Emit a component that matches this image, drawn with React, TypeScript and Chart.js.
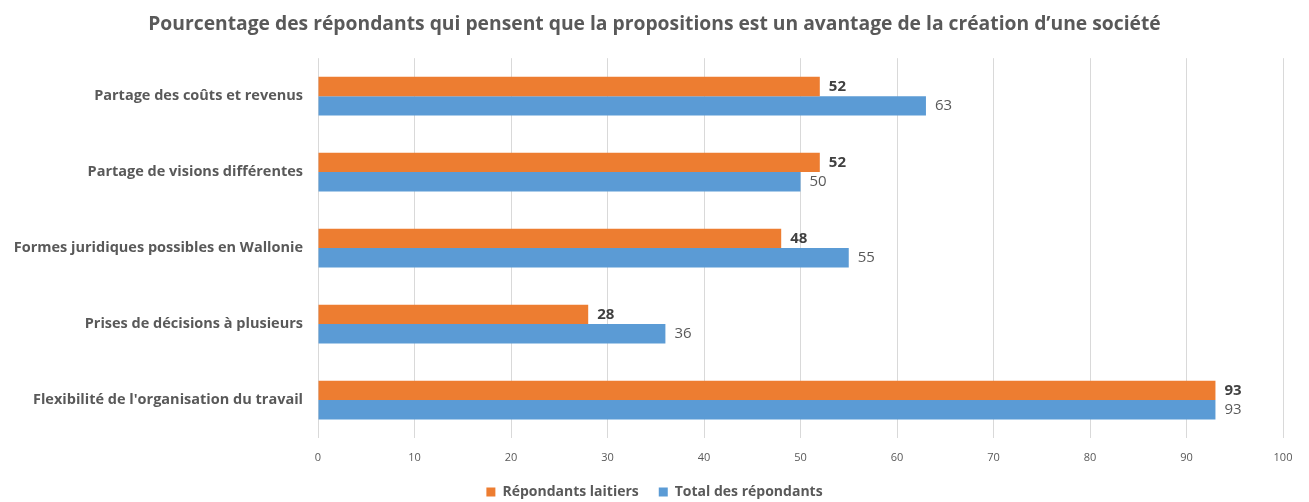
import React, { useEffect, useRef } from "react";
import { Chart, registerables } from "chart.js";

Chart.register(...registerables);

const titleText =
  "Pourcentage des répondants qui pensent que la propositions est un avantage de la création d\u2019une société";
const categories = [
  "Partage des coûts et revenus",
  "Partage de visions différentes",
  "Formes juridiques possibles en Wallonie",
  "Prises de décisions à plusieurs",
  "Flexibilité de l'organisation du travail",
];
const seriesNames = ["Répondants laitiers", "Total des répondants"];
const laitiers = [52, 52, 48, 28, 93];
const total = [63, 50, 55, 36, 93];

const FONT = '"Open Sans", "Noto Sans", sans-serif';

const valueLabels = {
  id: "valueLabels",
  afterDatasetsDraw(chart: any) {
    const ctx = chart.ctx;
    chart.data.datasets.forEach((ds: any, di: number) => {
      const meta = chart.getDatasetMeta(di);
      meta.data.forEach((bar: any, i: number) => {
        ctx.save();
        ctx.font = di === 0 ? `bold 15px ${FONT}` : `15px ${FONT}`;
        ctx.fillStyle = di === 0 ? "#404040" : "#595959";
        ctx.textBaseline = "middle";
        ctx.textAlign = "left";
        ctx.fillText(String(ds.data[i]), bar.x + 9, bar.y);
        ctx.restore();
      });
    });
  },
};

export default function App() {
  const ref = useRef<HTMLCanvasElement | null>(null);
  useEffect(() => {
    if (!ref.current) return;
    const chart = new Chart(ref.current, {
      type: "bar",
      data: {
        labels: categories,
        datasets: [
          {
            label: seriesNames[0],
            data: laitiers,
            backgroundColor: "#ED7D31",
            categoryPercentage: 0.51,
            barPercentage: 1,
          },
          {
            label: seriesNames[1],
            data: total,
            backgroundColor: "#5B9BD5",
            categoryPercentage: 0.51,
            barPercentage: 1,
          },
        ],
      },
      options: {
        indexAxis: "y",
        responsive: true,
        maintainAspectRatio: false,
        animation: false,
        layout: { padding: { left: 0, right: 0, top: 0, bottom: -7 } },
        plugins: {
          title: {
            display: true,
            text: titleText,
            color: "#595959",
            font: { family: FONT, size: 19.3, weight: "bold" },
            padding: { top: 13, bottom: 22 },
          },
          legend: {
            position: "bottom",
            labels: {
              boxWidth: 9,
              boxHeight: 9,
              padding: 20,
              color: "#595959",
              font: { family: FONT, size: 14, weight: "bold" },
            },
          },
          tooltip: { enabled: false },
        },
        scales: {
          x: {
            min: 0,
            max: 100,
            ticks: {
              stepSize: 10,
              color: "#595959",
              font: { family: FONT, size: 11 },
              padding: 13,
            },
            grid: { color: "#d9d9d9", drawTicks: false },
            border: { display: false },
            afterFit: (s: any) => {
              s.height = 27;
            },
          },
          y: {
            ticks: {
              color: "#595959",
              font: { family: FONT, size: 14.5, weight: "bold" },
              padding: 7,
            },
            grid: { display: false },
            border: { display: false },
            afterFit: (s: any) => {
              s.width = 318;
            },
          },
          ySpacer: {
            type: "category",
            position: "right",
            axis: "y",
            ticks: { display: false },
            grid: { display: false },
            border: { display: false },
            afterFit: (s: any) => {
              s.width = 26;
            },
          },
        },
      },
      plugins: [valueLabels],
    });
    return () => chart.destroy();
  }, []);
  return (
    <div
      style={{
        position: "fixed",
        left: 0,
        top: 0,
        width: 1309,
        height: 502,
        background: "#fff",
      }}
    >
      <canvas ref={ref} />
    </div>
  );
}
